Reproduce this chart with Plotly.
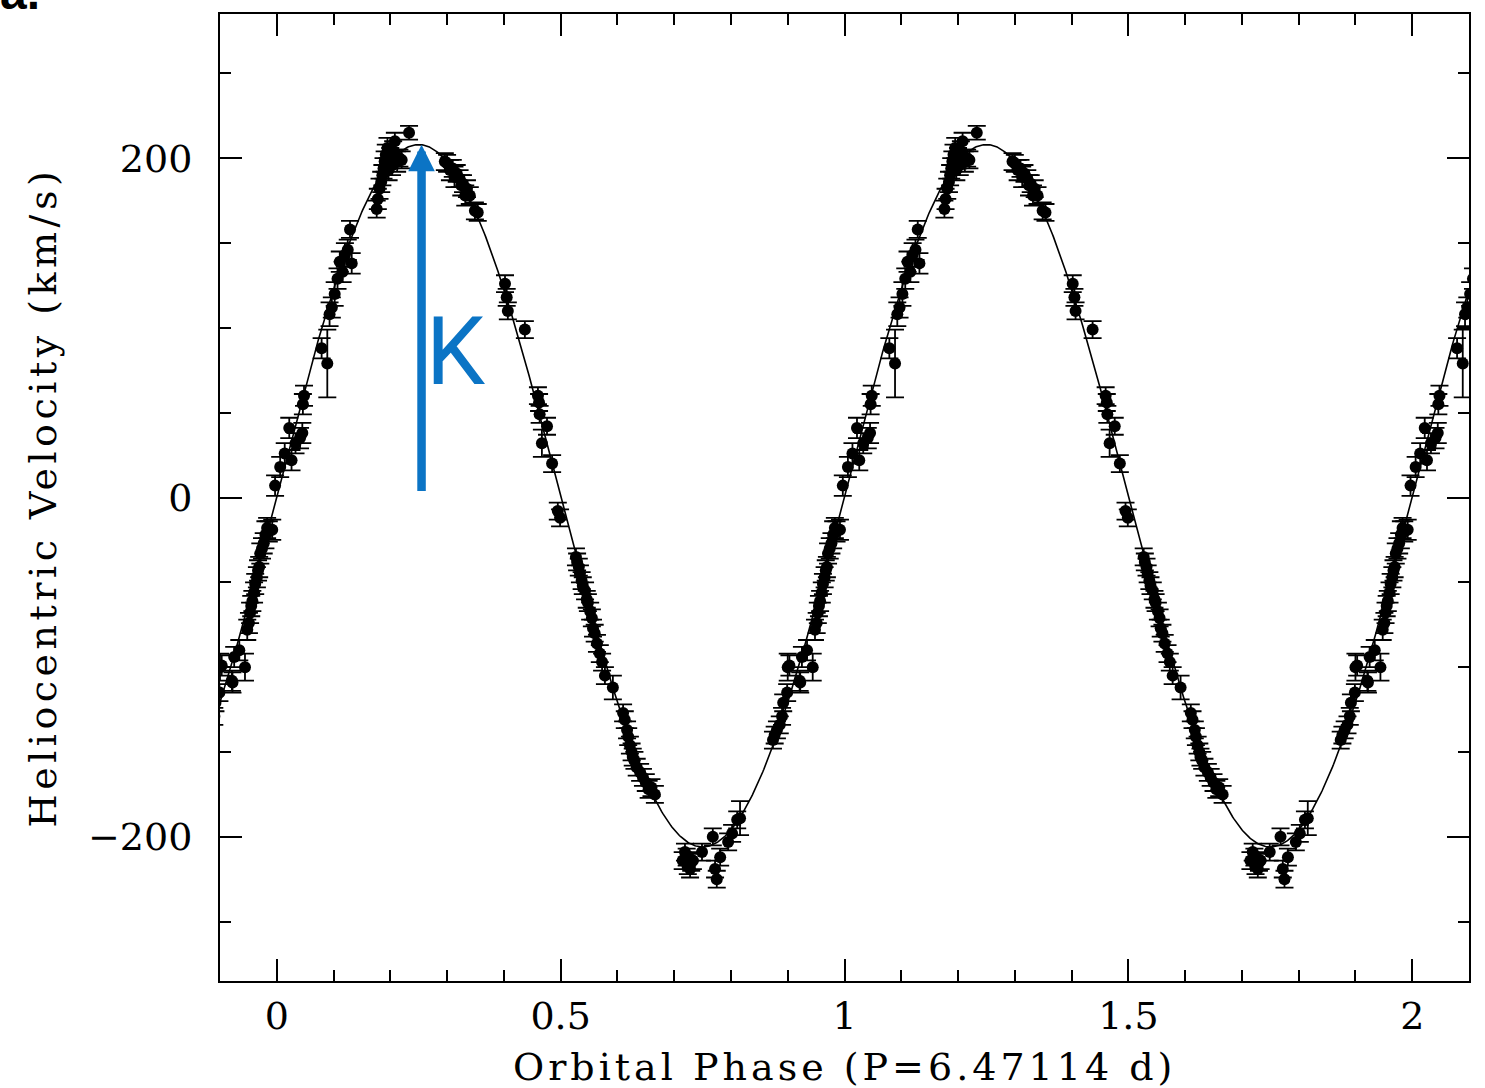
import numpy as np
import plotly.graph_objects as go

# ---- data (one orbital cycle, phase in [0,1)) ----
phase = [0.006, 0.014, 0.022, 0.026, 0.033, 0.041, 0.045, 0.046, 0.048, 0.079,
         0.089, 0.093, 0.097, 0.102, 0.107, 0.111, 0.116, 0.120, 0.125, 0.129,
         0.132, 0.176, 0.178, 0.181, 0.184, 0.186, 0.188, 0.190, 0.192, 0.195,
         0.197, 0.200, 0.203, 0.205, 0.208, 0.212, 0.216, 0.220, 0.233, 0.296,
         0.300, 0.305, 0.310, 0.313, 0.317, 0.322, 0.325, 0.328, 0.332, 0.335,
         0.340, 0.349, 0.354, 0.402, 0.405, 0.407, 0.437, 0.460, 0.462, 0.463,
         0.467, 0.476, 0.485, 0.495, 0.499, 0.527, 0.529, 0.532, 0.534, 0.537,
         0.539, 0.543, 0.546, 0.548, 0.552, 0.555, 0.557, 0.560, 0.564, 0.569,
         0.573, 0.578, 0.592, 0.610, 0.613, 0.617, 0.619, 0.622, 0.625, 0.627,
         0.630, 0.634, 0.640, 0.645, 0.650, 0.655, 0.660, 0.666, 0.715, 0.719,
         0.722, 0.724, 0.728, 0.730, 0.733, 0.749, 0.768, 0.772, 0.775, 0.781,
         0.795, 0.802, 0.811, 0.816, 0.874, 0.877, 0.881, 0.886, 0.890, 0.892,
         0.899, 0.900, 0.903, 0.921, 0.922, 0.925, 0.934, 0.944, 0.948, 0.951,
         0.953, 0.955, 0.957, 0.960, 0.962, 0.965, 0.967, 0.969, 0.971, 0.974,
         0.977, 0.980, 0.983, 0.986, 0.992, 0.997]
velocity = [18, 26, 41, 22, 32, 35, 38, 55, 60, 88,
            79, 108, 112, 120, 129, 139, 133, 143, 146, 158,
            138, 170, 176, 182, 186, 190, 194, 198, 202, 206,
            193, 200, 196, 204, 210, 198, 200, 199, 215, 198,
            197, 193, 194, 189, 191, 188, 184, 185, 178, 182,
            178, 169, 168, 126, 118, 110, 99, 60, 56, 49,
            32, 42, 20, -8, -12, -35, -38, -41, -45, -49,
            -52, -55, -60, -62, -67, -71, -77, -80, -86, -92,
            -97, -105, -112, -127, -131, -137, -141, -146, -150, -153,
            -155, -159, -162, -165, -168, -172, -171, -175, -214, -209,
            -212, -217, -219, -215, -214, -209, -200, -219, -225, -212,
            -203, -198, -190, -189, -143, -140, -137, -134, -129, -121,
            -115, -100, -99, -108, -109, -94, -90, -100, -78, -74,
            -68, -64, -61, -56, -51, -47, -43, -41, -33, -30,
            -27, -22, -18, -20, -19, 7]
v_error = [6, 6, 6, 6, 6, 6, 6, 6, 6, 6,
           20, 7, 6, 7, 6, 6, 6, 7, 6, 5,
           6, 5, 6, 6, 6, 6, 6, 6, 6, 6,
           6, 6, 6, 6, 5, 6, 5, 5, 4, 5,
           5, 6, 5, 6, 5, 5, 6, 5, 6, 5,
           5, 5, 5, 5, 5, 5, 5, 5, 5, 5,
           8, 5, 5, 5, 5, 5, 5, 5, 5, 5,
           5, 5, 5, 5, 5, 5, 5, 5, 5, 5,
           5, 5, 7, 5, 5, 5, 5, 5, 5, 5,
           5, 5, 5, 5, 5, 5, 5, 5, 5, 5,
           5, 5, 5, 5, 5, 5, 5, 5, 5, 5,
           5, 5, 5, 10, 5, 5, 5, 5, 5, 5,
           5, 8, 6, 6, 6, 6, 6, 8, 6, 6,
           6, 6, 6, 6, 6, 6, 6, 6, 6, 6,
           6, 8, 6, 6, 6, 6]

# orbit fit parameters
K_amp = 207.0      # semi-amplitude (km/s)
gamma = 1.0        # systemic velocity (km/s)

x_ticks = [0, 0.5, 1, 1.5, 2]
x_ticktext = ["0", "0.5", "1", "1.5", "2"]
x_range = [-0.1, 2.1]
y_range = [-285, 285]

BLUE = "#0B74C5"
FONT = "DejaVu Serif"

# ---- replicate the cycle over the plotted phase range ----
px, py, pe = [], [], []
for shift in (-1, 0, 1, 2):
    for p, v, e in zip(phase, velocity, v_error):
        q = p + shift
        if x_range[0] - 0.01 <= q <= x_range[1] + 0.01:
            px.append(q); py.append(v); pe.append(e)

xc = np.linspace(x_range[0], x_range[1], 1200)
yc = gamma + K_amp * np.sin(2 * np.pi * xc)

fig = go.Figure()
fig.add_trace(go.Scatter(x=xc, y=yc, mode="lines",
                         line=dict(color="black", width=1.6), hoverinfo="skip"))
fig.add_trace(go.Scatter(x=px, y=py, mode="markers",
                         marker=dict(color="black", size=12),
                         error_y=dict(type="data", array=pe, visible=True,
                                      color="black", thickness=1.8, width=9)))

axis_common = dict(showgrid=False, zeroline=False, showline=True,
                   linecolor="black", linewidth=2, mirror="allticks",
                   ticks="inside", ticklen=22, tickwidth=2, tickcolor="black",
                   tickfont=dict(family=FONT, size=38, color="black"))

fig.update_xaxes(range=x_range, tickvals=x_ticks, ticktext=x_ticktext,
                 ticklabelstandoff=0,
                 minor=dict(dtick=0.1, tick0=0, ticks="inside", ticklen=11,
                            tickwidth=2, tickcolor="black", showgrid=False),
                 **axis_common)
fig.update_yaxes(range=y_range, tick0=0, dtick=200, ticklabelstandoff=18,
                 minor=dict(dtick=50, tick0=0, ticks="inside", ticklen=11,
                            tickwidth=2, tickcolor="black", showgrid=False),
                 **axis_common)

annotations = [
    # K arrow
    dict(x=0.255, y=208, ax=0.255, ay=3, xref="x", yref="y", axref="x", ayref="y",
         text="", showarrow=True, arrowhead=2, arrowsize=0.625, arrowwidth=8.5,
         arrowcolor=BLUE),
    dict(x=0.315, y=86, xref="x", yref="y", text="K", showarrow=False,
         font=dict(family="Liberation Sans Narrow, Roboto", size=94, color=BLUE)),
    # axis titles
    dict(x=-178 / 1249, y=0.5, xref="paper", yref="paper", textangle=-90,
         text='<span style="letter-spacing:4.5px">Heliocentric Velocity (km/s)</span>',
         showarrow=False, xanchor="center", yanchor="middle",
         font=dict(family=FONT, size=38, color="black")),
    dict(x=0.5, y=-86 / 967, xref="paper", yref="paper",
         text='<span style="letter-spacing:4px">Orbital Phase (P=6.47114 d)</span>',
         showarrow=False, xanchor="center", yanchor="middle",
         font=dict(family=FONT, size=38, color="black")),
    # panel label (cut at top edge, as in the source figure)
    dict(x=-222 / 1249, y=1 - 6.6 / 967, xref="paper", yref="paper",
         text="<b>a.</b>", showarrow=False, xanchor="left", yanchor="bottom",
         font=dict(family="Liberation Sans", size=48, color="black")),
]

fig.update_layout(width=1485, height=1088,
                  margin=dict(l=220, r=16, t=14, b=107),
                  paper_bgcolor="white", plot_bgcolor="white",
                  showlegend=False, annotations=annotations)

# remove the default 8px page margin so the figure fills the window exactly
fig.write_html("out.html",
               config={"displayModeBar": False},
               post_script="document.body.style.margin='0';"
                           "document.body.style.overflow='hidden';")
